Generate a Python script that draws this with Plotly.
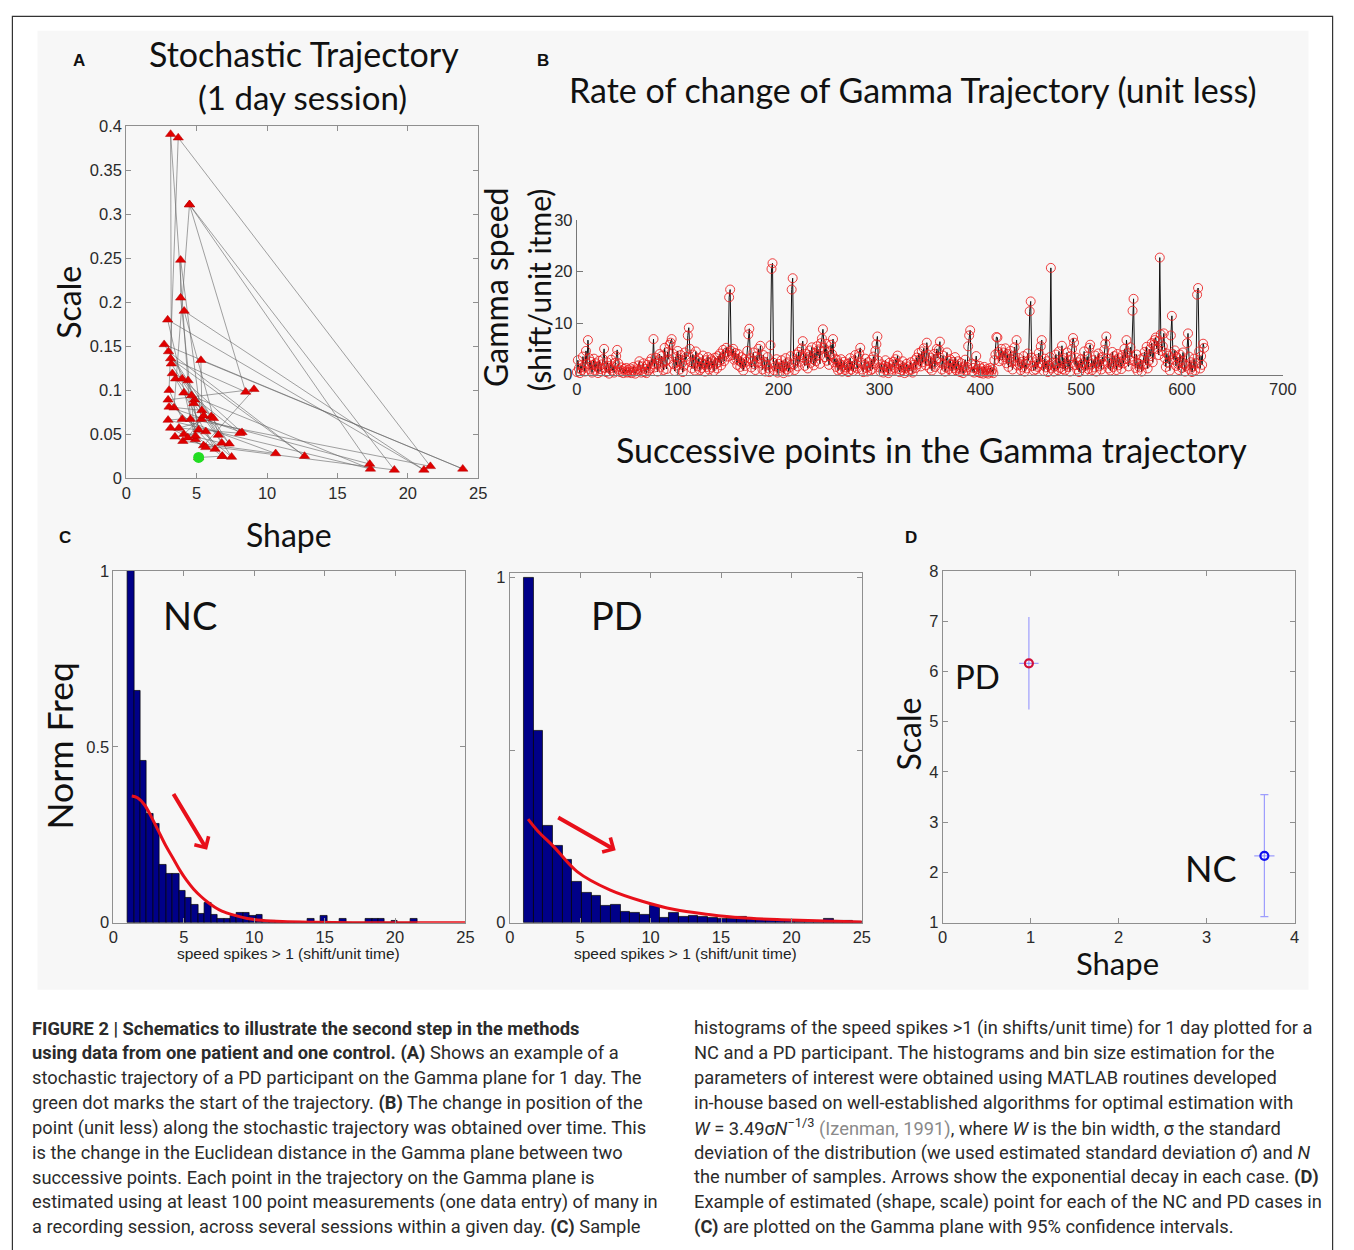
import plotly.graph_objects as go

W, H = 1354, 1250

# ---------------- Panel A: stochastic trajectory (shape, scale) ----------------
traj_shape = [5.14, 6.82, 5.65, 3.46, 4.02, 10.61, 3.97, 3.04, 3.69, 21.6, 4.56, 3.15, 3.20, 4.84,
              7.48, 3.39, 4.49, 17.29, 5.33, 3.86, 3.86, 4.91, 2.94, 21.14, 4.11, 6.54, 3.00, 12.66,
              3.15, 8.48, 4.49, 19.04, 5.49, 9.07, 2.97, 6.31, 3.50, 4.39, 3.27, 7.31, 2.69, 23.9,
              5.30, 5.37, 3.04, 8.22, 3.97, 6.03, 2.97, 17.34, 4.09, 6.19, 3.74, 8.06, 4.63, 5.14,
              4.79, 6.78, 4.09, 5.49, 4.37, 5.65, 3.15, 4.91, 6.82]
traj_scale = [0.0235, 0.025, 0.053, 0.047, 0.042, 0.028, 0.067, 0.100, 0.387, 0.0134, 0.067, 0.391, 0.130, 0.089,
              0.024, 0.080, 0.311, 0.016, 0.067, 0.248, 0.205, 0.044, 0.180, 0.0093, 0.190, 0.049, 0.144, 0.025,
              0.136, 0.098, 0.311, 0.0093, 0.037, 0.101, 0.089, 0.033, 0.113, 0.111, 0.119, 0.039, 0.152, 0.0105,
              0.134, 0.077, 0.081, 0.052, 0.113, 0.070, 0.066, 0.0105, 0.097, 0.068, 0.057, 0.051, 0.094, 0.055,
              0.085, 0.040, 0.050, 0.071, 0.046, 0.035, 0.057, 0.048, 0.025]
start_shape = [5.14]
start_scale = [0.0235]

# ---------------- Panel B: gamma speed ----------------
speed = [
    0.5, 2.8, 1.2, 0.3, 1.8, 0.9, 3.5, 1.4, 0.6, 4.6, 2.1, 6.7, 3.2, 1.0, 2.5, 0.4, 1.9, 3.1, 0.8, 2.2,
    1.5, 0.3, 2.7, 1.1, 0.6, 2.0, 3.0, 5.0, 1.3, 0.5, 2.4, 1.7, 0.2, 1.2, 2.9, 0.8, 1.6, 0.4, 2.3, 3.6,
    4.8, 2.2, 1.0, 0.5, 1.4, 0.7, 0.3, 1.1, 0.6, 1.3, 0.4, 0.9, 0.5, 1.2, 0.3, 0.8, 1.5, 0.6, 0.2, 1.0,
    0.7, 1.8, 2.6, 0.9, 0.4, 1.6, 2.2, 0.5, 1.1, 0.3, 1.9, 0.8, 2.5, 1.2, 3.1, 2.0, 6.9, 1.4, 3.3, 2.1,
    0.6, 2.8, 4.0, 1.5, 3.6, 2.3, 0.9, 5.2, 2.6, 1.1, 4.4, 3.0, 5.8, 6.2, 6.9, 4.1, 2.0, 0.7, 3.4, 1.8,
    4.6, 2.5, 1.0, 3.8, 2.2, 0.5, 1.7, 4.3, 2.9, 3.5, 7.6, 9.1, 5.0, 2.4, 1.2, 3.9, 2.1, 0.8, 4.5, 2.7,
    1.6, 3.2, 0.9, 2.4, 1.3, 3.7, 2.0, 0.6, 2.8, 1.5, 3.4, 1.0, 2.3, 3.0, 1.4, 2.6, 0.7, 3.3, 2.1, 1.2,
    3.6, 2.4, 4.1, 1.8, 3.0, 4.8, 2.6, 3.9, 5.2, 4.4, 3.5, 15.0, 16.5, 4.6, 3.8, 5.0, 2.9, 4.2, 3.1, 1.9,
    4.0, 2.7, 1.5, 3.4, 2.2, 0.8, 3.0, 1.7, 2.5, 4.6, 7.8, 8.9, 3.2, 1.4, 2.6, 4.3, 2.0, 0.9, 3.5, 2.4,
    5.0, 3.1, 5.6, 2.2, 1.0, 3.8, 2.5, 0.6, 1.9, 3.4, 1.2, 0.5, 5.7, 20.5, 21.6, 2.3, 0.8, 1.6, 3.0, 0.4,
    2.1, 1.3, 0.7, 2.8, 1.5, 0.3, 1.8, 3.2, 1.0, 2.4, 0.6, 1.4, 3.6, 16.5, 18.7, 2.0, 0.9, 2.7, 3.9, 1.6,
    4.4, 2.5, 3.8, 5.1, 6.5, 3.3, 1.7, 4.0, 2.8, 1.2, 3.5, 4.7, 2.3, 5.3, 3.0, 1.8, 4.2, 2.6, 5.5, 3.7,
    4.9, 2.1, 6.1, 7.0, 8.8, 5.2, 3.4, 6.0, 2.7, 4.5, 1.9, 3.6, 5.8, 4.0, 6.9, 2.4, 3.1, 1.5, 2.9, 0.8,
    2.2, 1.1, 3.0, 0.6, 1.8, 2.5, 0.9, 1.4, 2.1, 0.5, 1.7, 3.2, 1.0, 2.6, 0.7, 1.5, 3.8, 2.0, 1.2, 3.4,
    4.1, 5.2, 2.3, 1.0, 0.5, 1.9, 3.1, 1.3, 0.6, 2.4, 1.6, 0.8, 2.9, 1.1, 3.5, 2.2, 4.6, 5.9, 7.4, 2.7,
    1.4, 0.6, 2.0, 1.2, 0.4, 1.7, 2.8, 0.9, 1.5, 0.3, 2.3, 1.0, 0.7, 1.9, 2.5, 1.3, 3.0, 2.2, 3.7, 1.1,
    0.5, 1.8, 0.9, 2.6, 1.4, 0.3, 1.2, 2.1, 0.6, 1.6, 0.8, 2.4, 1.0, 0.4, 1.9, 2.8, 1.3, 3.3, 2.0, 4.2,
    3.0, 1.6, 4.5, 2.4, 5.1, 3.6, 1.8, 6.2, 3.9, 2.6, 1.2, 3.3, 0.8, 2.1, 4.0, 1.5, 2.9, 5.0, 3.2, 4.8,
    6.4, 2.3, 1.0, 3.7, 2.0, 0.6, 1.4, 4.3, 2.7, 1.1, 3.0, 1.9, 0.7, 2.5, 1.3, 3.4, 0.9, 1.8, 2.6, 1.2,
    0.5, 2.2, 1.0, 0.3, 1.6, 2.9, 0.8, 1.4, 5.5, 7.6, 8.6, 2.1, 0.6, 1.3, 0.4, 2.0, 3.6, 1.1, 0.5, 1.7,
    0.3, 1.2, 0.6, 0.2, 1.5, 0.8, 0.4, 1.1, 0.2, 0.7, 1.3, 0.5, 1.0, 0.3, 2.8, 3.9, 7.3, 7.2, 4.4, 2.6,
    3.8, 5.0, 2.9, 4.3, 3.4, 5.1, 2.2, 4.0, 1.5, 3.1, 4.6, 2.4, 1.0, 3.5, 5.3, 2.7, 6.7, 1.8, 3.2, 2.0,
    0.9, 2.5, 1.4, 3.6, 0.6, 2.1, 1.2, 4.1, 2.8, 12.3, 14.2, 3.3, 1.7, 0.8, 2.4, 1.0, 3.0, 1.5, 4.2, 2.2,
    5.5, 6.7, 1.9, 0.7, 3.1, 1.4, 2.6, 0.5, 1.8, 3.4, 20.7, 1.2, 2.3, 0.6, 1.6, 3.9, 2.0, 0.9, 4.5, 1.3,
    2.7, 5.6, 1.1, 3.2, 0.8, 2.0, 4.3, 1.5, 2.9, 0.6, 3.6, 5.0, 7.1, 6.2, 1.9, 3.3, 1.0, 2.4, 0.5, 1.7,
    3.0, 1.3, 2.2, 4.5, 0.7, 1.8, 3.5, 1.1, 5.2, 5.8, 2.0, 0.9, 2.8, 1.4, 3.7, 0.6, 2.3, 4.1, 1.6, 2.9,
    1.0, 3.4, 2.1, 4.8, 6.0, 7.4, 2.5, 1.2, 3.1, 0.8, 2.0, 4.4, 1.5, 3.6, 2.7, 0.9, 4.0, 1.8, 3.2, 2.4,
    1.1, 3.8, 2.2, 5.0, 3.0, 6.7, 4.2, 1.6, 2.8, 5.3, 3.5, 12.4, 14.7, 2.6, 1.3, 3.9, 0.7, 2.1, 1.4, 3.0,
    0.6, 1.9, 3.3, 4.4, 2.0, 5.4, 1.2, 2.7, 4.9, 3.6, 6.1, 2.4, 5.8, 6.7, 7.2, 5.0, 6.5, 3.8, 22.7, 7.8,
    4.6, 5.5, 8.0, 3.2, 1.5, 4.1, 2.3, 3.7, 0.8, 7.6, 11.4, 4.0, 2.9, 4.7, 1.7, 3.4, 2.1, 0.9, 3.9, 2.6,
    1.3, 4.3, 2.0, 0.6, 1.7, 6.1, 8.0, 3.5, 1.0, 2.4, 0.5, 1.6, 3.1, 0.8, 2.2, 15.5, 16.8, 4.5, 1.2, 3.6,
    1.9, 6.0, 5.2]
step_index = list(range(len(speed)))

# ---------------- Panel C: histograms ----------------
nc_bin_start = 1.0
nc_bin_width = 0.457
nc_freq = [1.00, 0.66, 0.46, 0.31, 0.28, 0.165, 0.14, 0.14, 0.09, 0.07, 0.05, 0.025, 0.057, 0.022, 0.012,
           0.012, 0.02, 0.028, 0.028, 0.02, 0.022, 0.004, 0.004, 0.003, 0.003, 0.002, 0.002, 0.0, 0.012,
           0.0, 0.02, 0.0, 0.0, 0.01, 0.0, 0.0, 0.0, 0.01, 0.01, 0.01, 0.0, 0.005, 0.0, 0.0, 0.012]
nc_fit_x = [1.3, 1.7, 2.2, 2.7, 3.2, 3.7, 4.2, 4.7, 5.2, 5.7, 6.2, 6.7, 7.2, 7.7, 8.5, 9.5, 10.5, 12.0, 14.0, 17.0, 25.0]
nc_fit_y = [0.36, 0.355, 0.335, 0.30, 0.26, 0.22, 0.185, 0.15, 0.12, 0.095, 0.075, 0.058, 0.044, 0.033,
            0.022, 0.012, 0.007, 0.003, 0.001, 0.0, 0.0]

pd_bin_start = 1.0
pd_bin_width = 0.687
pd_freq = [1.00, 0.557, 0.281, 0.224, 0.181, 0.119, 0.088, 0.078, 0.048, 0.052, 0.033, 0.030, 0.023, 0.048,
           0.013, 0.029, 0.017, 0.019, 0.016, 0.015, 0.011, 0.010, 0.016, 0.012, 0.008, 0.007, 0.006, 0.005,
           0.004, 0.004, 0.003, 0.012, 0.005, 0.006, 0.003]
pd_fit_x = [1.3, 2.0, 3.15, 4.78, 7.1, 9.4, 11.7, 14.1, 16.4, 19.9, 25.0]
pd_fit_y = [0.30, 0.265, 0.219, 0.148, 0.095, 0.062, 0.038, 0.024, 0.014, 0.008, 0.002]

# ---------------- Panel D: gamma plane estimates ----------------
d_groups = ["PD", "NC"]
d_shape = [0.98, 3.656]
d_scale = [6.16, 2.33]
d_shape_err = [0.11, 0.115]
d_scale_err_plus = [0.92, 1.215]
d_scale_err_minus = [0.92, 1.21]

# ---------------------------------------------------------------------------
RED = "#e8101a"
TICKFONT = dict(family="Liberation Sans, Arial", size=16.5, color="#2a2a2a")
TITLEFONT = "Lato, Open Sans, sans-serif"
AXCOL = "#8f8f8f"


def px(x):
    return x / W


def py(y):
    return 1 - y / H


def box_axis(dom, rng, **kw):
    d = dict(domain=dom, range=rng, showline=True, mirror="ticks", linecolor=AXCOL, linewidth=1,
             ticks="inside", ticklen=5, tickcolor=AXCOL, showgrid=False, zeroline=False,
             tickfont=TICKFONT, fixedrange=True)
    d.update(kw)
    return d


fig = go.Figure()

# Panel A
fig.add_trace(go.Scatter(x=traj_shape, y=traj_scale, mode="lines", xaxis="x", yaxis="y",
                         line=dict(color="rgba(100,100,100,0.6)", width=1), hoverinfo="skip"))
fig.add_trace(go.Scatter(x=traj_shape, y=traj_scale, mode="markers", xaxis="x", yaxis="y",
                         marker=dict(symbol="triangle-up", size=9, color="#e00000",
                                     line=dict(color="#b00000", width=0.5))))
fig.add_trace(go.Scatter(x=start_shape, y=start_scale, mode="markers", xaxis="x", yaxis="y",
                         marker=dict(symbol="circle", size=11, color="#22dd22")))

# Panel B
fig.add_trace(go.Scatter(x=step_index, y=speed, mode="lines+markers", xaxis="x2", yaxis="y2",
                         line=dict(color="#111111", width=1),
                         marker=dict(symbol="circle-open", size=9, color="rgba(235,30,30,0.85)",
                                     line=dict(width=1)),
                         cliponaxis=False))

# Panel C NC
nc_centers = [nc_bin_start + nc_bin_width * (i + 0.5) for i in range(len(nc_freq))]
fig.add_trace(go.Bar(x=nc_centers, y=nc_freq, width=nc_bin_width, xaxis="x3", yaxis="y3",
                     marker=dict(color="#000088", line=dict(color="#000000", width=0.7))))
fig.add_trace(go.Scatter(x=nc_fit_x, y=nc_fit_y, mode="lines", xaxis="x3", yaxis="y3",
                         line=dict(color=RED, width=3, shape="spline")))

# Panel C PD
pd_centers = [pd_bin_start + pd_bin_width * (i + 0.5) for i in range(len(pd_freq))]
fig.add_trace(go.Bar(x=pd_centers, y=pd_freq, width=pd_bin_width, xaxis="x4", yaxis="y4",
                     marker=dict(color="#000088", line=dict(color="#000000", width=0.7))))
fig.add_trace(go.Scatter(x=pd_fit_x, y=pd_fit_y, mode="lines", xaxis="x4", yaxis="y4",
                         line=dict(color=RED, width=3, shape="spline")))

# Panel D
d_colors = ["#d0103a", "#1010ee"]
d_caps = [0, 4]
for i in range(2):
    fig.add_trace(go.Scatter(
        x=[d_shape[i]], y=[d_scale[i]], mode="markers", xaxis="x5", yaxis="y5",
        marker=dict(symbol="circle-open", size=8, color=d_colors[i], line=dict(width=2.2)),
        error_x=dict(type="data", array=[d_shape_err[i]], color="rgba(120,120,255,0.7)",
                     thickness=1.2, width=0),
        error_y=dict(type="data", symmetric=False, array=[d_scale_err_plus[i]],
                     arrayminus=[d_scale_err_minus[i]], color="rgba(120,120,255,0.7)",
                     thickness=1.2, width=d_caps[i])))

layout = dict(
    width=W, height=H, margin=dict(l=0, r=0, t=0, b=0),
    paper_bgcolor="white", plot_bgcolor="white", showlegend=False, bargap=0,
    xaxis=box_axis([px(123), px(480)], [0, 25], tickvals=[0, 5, 10, 15, 20, 25]),
    yaxis=box_axis([py(476), py(119)], [0, 0.4],
                   tickvals=[0, 0.05, 0.1, 0.15, 0.2, 0.25, 0.3, 0.35, 0.4],
                   ticktext=["0", "0.05", "0.1", "0.15", "0.2", "0.25", "0.3", "0.35", "0.4"]),
    xaxis2=dict(domain=[px(580), px(1296)], range=[0, 700], anchor="y2", showline=True, mirror=False,
                linecolor="#777", ticks="inside", ticklen=6, tickcolor="#777", showgrid=False,
                zeroline=False, tickvals=[0, 100, 200, 300, 400, 500, 600, 700], tickfont=TICKFONT),
    yaxis2=dict(domain=[py(371), py(214)], range=[0, 30], anchor="x2", showline=True, mirror=False,
                linecolor="#777", ticks="inside", ticklen=6, tickcolor="#777", showgrid=False,
                zeroline=False, tickvals=[0, 10, 20, 30], tickfont=TICKFONT),
    xaxis3=box_axis([px(110), px(467)], [0, 25], anchor="y3", tickvals=[0, 5, 10, 15, 20, 25]),
    yaxis3=box_axis([py(927), py(570)], [0, 1], anchor="x3", tickvals=[0, 0.5, 1],
                    ticktext=["0", "0.5", "1"]),
    xaxis4=box_axis([px(512), px(869)], [0, 25], anchor="y4", tickvals=[0, 5, 10, 15, 20, 25]),
    yaxis4=box_axis([py(927), py(572)], [0, 1.014], anchor="x4", tickvals=[0, 0.5, 1],
                    ticktext=["0", "", "1"]),
    xaxis5=box_axis([px(951), px(1308)], [0, 4], anchor="y5", tickvals=[0, 1, 2, 3, 4]),
    yaxis5=box_axis([py(927), py(570)], [1, 8], anchor="x5", tickvals=[1, 2, 3, 4, 5, 6, 7, 8]),
)
fig.update_layout(**layout)

# Background / frame shapes
fig.add_shape(type="rect", xref="paper", yref="paper", x0=px(33), x1=px(1322), y0=py(995), y1=py(22),
              fillcolor="#f7f7f7", line=dict(width=0), layer="below")
fig.add_shape(type="rect", xref="paper", yref="paper", x0=px(7.5), x1=px(1346.5), y0=py(1262), y1=py(7.5),
              fillcolor="rgba(0,0,0,0)", line=dict(color="#333", width=1.2), layer="above")

ann = []


def text(x, y, s, size, family=TITLEFONT, angle=0, color="#111", xanchor="center", bold=False):
    if bold:
        s = "<b>" + s + "</b>"
    ann.append(dict(x=px(x), y=py(y), xref="paper", yref="paper", text=s, showarrow=False,
                    font=dict(family=family, size=size, color=color), textangle=angle,
                    xanchor=xanchor, yanchor="middle"))


# Panel letters
for lx, ly, lt in [(75, 52, "A"), (546, 52, "B"), (61, 536, "C"), (919, 536, "D")]:
    text(lx, ly, lt, 17, family="Liberation Sans, Arial", bold=True)

# Panel A texts
text(303, 45, "Stochastic Trajectory", 34)
text(302, 89, "(1 day session)", 33)
text(65, 298, "Scale", 32, angle=-90)
text(288, 533, "Shape", 32)

# Panel B texts
text(920, 82, "Rate of change of Gamma Trajectory (unit less)", 34)
text(498, 283, "Gamma speed", 32, angle=-90)
text(541, 285, "(shift/unit itme)", 30, angle=-90)
text(940, 447, "Successive points in the Gamma trajectory", 34)

# Panel C texts
text(55, 748, "Norm Freq", 35.5, angle=-90)
text(188, 615, "NC", 38)
text(621, 615, "PD", 38)
text(288, 958, "speed spikes &gt; 1 (shift/unit time)", 15.5, family="Liberation Sans, Arial", color="#222")
text(690, 958, "speed spikes &gt; 1 (shift/unit time)", 15.5, family="Liberation Sans, Arial", color="#222")

# Panel D texts
text(916, 736, "Scale", 32, angle=-90)
text(1128, 968, "Shape", 31)
text(986, 677, "PD", 33)
text(1223, 872, "NC", 36)

# Arrows in panel C
ann.append(dict(x=6.65, y=0.207, ax=4.2, ay=0.37, xref="x3", yref="y3", axref="x3", ayref="y3",
                showarrow=True, arrowhead=4, arrowsize=0.8, arrowwidth=4, arrowcolor=RED, text=""))
ann.append(dict(x=7.52, y=0.21, ax=3.33, ay=0.307, xref="x4", yref="y4", axref="x4", ayref="y4",
                showarrow=True, arrowhead=4, arrowsize=0.8, arrowwidth=4, arrowcolor=RED, text=""))

# Caption
cap_left = [
    "<b>FIGURE 2 | Schematics to illustrate the second step in the methods</b>",
    "<b>using data from one patient and one control. (A)</b> Shows an example of a",
    "stochastic trajectory of a PD participant on the Gamma plane for 1 day. The",
    "green dot marks the start of the trajectory. <b>(B)</b> The change in position of the",
    "point (unit less) along the stochastic trajectory was obtained over time. This",
    "is the change in the Euclidean distance in the Gamma plane between two",
    "successive points. Each point in the trajectory on the Gamma plane is",
    "estimated using at least 100 point measurements (one data entry) of many in",
    "a recording session, across several sessions within a given day. <b>(C)</b> Sample",
]
cap_right = [
    "histograms of the speed spikes &gt;1 (in shifts/unit time) for 1 day plotted for a",
    "NC and a PD participant. The histograms and bin size estimation for the",
    "parameters of interest were obtained using MATLAB routines developed",
    "in-house based on well-established algorithms for optimal estimation with",
    "<i>W</i> = 3.49σ<i>N</i><sup>−1/3</sup> <span style='color:#8a8a8a'>(Izenman, 1991)</span>, where <i>W</i> is the bin width, σ the standard",
    "deviation of the distribution (we used estimated standard deviation σ̂) and <i>N</i>",
    "the number of samples. Arrows show the exponential decay in each case. <b>(D)</b>",
    "Example of estimated (shape, scale) point for each of the NC and PD cases in",
    "<b>(C)</b> are plotted on the Gamma plane with 95% confidence intervals.",
]
CAPFONT = "Roboto, Liberation Sans, sans-serif"
for i, line in enumerate(cap_left):
    text(25, 1034 + 25.25 * i, line, 18.3, family=CAPFONT, color="#2b2b2b", xanchor="left")
for i, line in enumerate(cap_right):
    text(697, 1034 + 25.25 * i, line, 18.3, family=CAPFONT, color="#2b2b2b", xanchor="left")

fig.update_layout(annotations=ann)
fig.write_html("out.html")
